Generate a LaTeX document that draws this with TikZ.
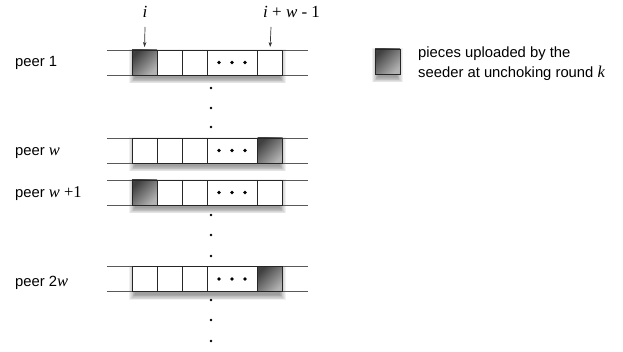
\documentclass[tikz,border=0pt]{standalone}
\usepackage{fontspec}
\setmainfont{Liberation Sans}
\newfontfamily\ser{Liberation Serif}
\usetikzlibrary{arrows.meta}
\tikzset{
  rail/.style={draw=black!65, line width=0.8pt},
  cell/.style={draw=black!85, line width=0.8pt, fill=white, minimum width=25pt, minimum height=25pt, inner sep=0pt, outer sep=0pt},
  widecell/.style={cell, minimum width=50pt},
  seeded/.style={cell, top color=black!75, bottom color=black!30, shading angle=45},
  lbl/.style={font=\fontsize{14.8}{16}\selectfont, inner sep=0pt, anchor=west},
  mathlbl/.style={font=\fontsize{17}{19}\selectfont\ser, inner sep=0pt},
  ptr/.style={draw=black!80, line width=0.7pt, shorten >=3pt, -{Stealth[length=5pt,width=3.5pt]}},
  vdot/.style={fill=black}
}
\newcommand\mw[1]{{\ser\itshape\fontsize{16.5}{16}\selectfont #1}}
\newcommand\blurshadow[4]{% x1,y1,x2,y2 of the box
  \foreach \s in {0,1,...,7}{
    \fill[black, opacity=0.055] ({#1+3-\s*0.8},{#2+4-\s*0.7}) rectangle ({#3-3+\s*0.8},{#4+3.5+\s*0.7});
  }}
\newcommand\peerrow[3]{% name, y centre, seeded cell (1 or 5)
  \blurshadow{132}{#2-12.5}{283}{#2+12.5}
  \coordinate (#1-tl) at (107,{#2-12.5});
  \coordinate (#1-tr) at (308,{#2-12.5});
  \coordinate (#1-bl) at (107,{#2+12.5});
  \coordinate (#1-br) at (308,{#2+12.5});
  \draw[rail] (#1-tl) -- (#1-tr);
  \draw[rail] (#1-bl) -- (#1-br);
  \ifnum#3=1
    \node[seeded] (#1-1) at (144.5,#2) {};
    \node[cell] (#1-5) at (270,#2) {};
  \else
    \node[cell] (#1-1) at (144.5,#2) {};
    \node[seeded] (#1-5) at (270,#2) {};
  \fi
  \node[cell] (#1-2) at (169.5,#2) {};
  \node[cell] (#1-3) at (194.5,#2) {};
  \node[widecell] (#1-4) at (232,#2) {};
  \fill[vdot] ([xshift=-13pt]#1-4.center) circle (1.8);
  \fill[vdot] (#1-4.center) circle (1.8);
  \fill[vdot] ([xshift=13pt]#1-4.center) circle (1.8);
}
\begin{document}
\begin{tikzpicture}[x=1pt,y=-1pt]
\useasboundingbox[fill=white] (0,0) rectangle (623,352);

\peerrow{pa}{62.5}{1}
\peerrow{pb}{150.5}{5}
\peerrow{pc}{192.5}{1}
\peerrow{pd}{279}{5}

% peer labels
\node[lbl] (la) at (15,63) {peer 1};
\node[lbl] (lb) at (15,153) {peer \mw{w}};
\node[lbl] (lc) at (15,194) {peer \mw{w} {\ser\fontsize{16.5}{16}\selectfont +1}};
\node[lbl] (ld) at (15,283) {peer 2\mw{w}};

% pointers
\node[mathlbl] (ti) at (145,12) {\itshape i};
\node[mathlbl, anchor=west] (tw) at (263,12) {{\itshape i} + {\itshape w} - 1};
\coordinate (ai) at (145,27);
\coordinate (aw) at (271,27);
\draw[ptr] (ai) -- (pa-1.north);
\draw[ptr] (aw) -- (pa-5.north);

% vertical dots
\foreach \y in {88,108,127,215,235,256,300,320,341}{
  \fill[vdot] (211,\y) circle (1.3);
}

% legend
\blurshadow{375}{49}{400}{74}
\node[seeded] (key) at (387.5,61.5) {};
\node[lbl, align=left, anchor=north west, font=\fontsize{14.8}{20}\selectfont] (keytxt) at (418,47)
  {pieces uploaded by the\\seeder at unchoking round \mw{k}};
\end{tikzpicture}
\end{document}
